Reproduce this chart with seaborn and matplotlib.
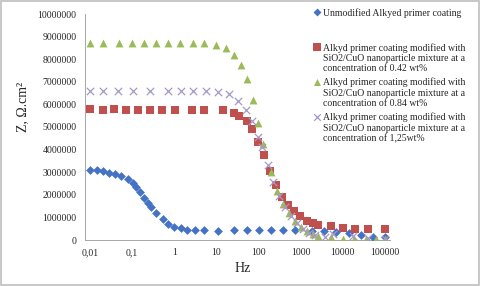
import numpy as np
import pandas as pd
import matplotlib
matplotlib.use("Agg")
import matplotlib.pyplot as plt
import seaborn as sns
from matplotlib.patches import Rectangle

# ---- data ----
freq_unmod = [0.01, 0.0149, 0.02, 0.028, 0.039, 0.056, 0.081, 0.107, 0.124, 0.154, 0.19, 0.24,
              0.28, 0.37, 0.53, 0.72, 1.0, 1.42, 2.04, 3.1, 5.1, 10.8, 26.8, 52.8, 103, 196,
              390, 741, 1845, 3610, 6970, 14400, 27400, 51800, 100000]
z_unmod = [3.10, 3.10, 3.05, 2.98, 2.93, 2.85, 2.69, 2.51, 2.33, 2.11, 1.87, 1.65,
           1.47, 1.21, 0.92, 0.72, 0.59, 0.52, 0.44, 0.43, 0.43, 0.40, 0.43, 0.43, 0.43, 0.43,
           0.43, 0.43, 0.41, 0.41, 0.37, 0.30, 0.21, 0.12, 0.12]

freq_042 = [0.01, 0.02, 0.0365, 0.072, 0.14, 0.266, 0.51, 1.03, 2.6, 5.1, 14.2, 26.4, 35.3,
            52.7, 70.5, 99.5, 134, 189, 262, 364, 497, 689, 988, 1403, 1950, 2650, 5210,
            10000, 19700, 39500, 100000]
z_042 = [5.80, 5.77, 5.80, 5.77, 5.77, 5.77, 5.77, 5.77, 5.77, 5.77, 5.74, 5.62, 5.50,
         5.28, 4.90, 4.35, 3.75, 3.04, 2.42, 1.89, 1.54, 1.27, 1.06, 0.85, 0.74, 0.66, 0.60,
         0.52, 0.49, 0.49, 0.49]

freq_084 = [0.01, 0.02, 0.0497, 0.101, 0.192, 0.37, 0.725, 1.40, 2.85, 5.2, 9.7, 17, 27, 38,
            54.6, 73, 99.5, 131, 196, 272, 390, 533, 741, 1000, 1400, 1950, 2650, 5200,
            10000, 19000, 36000, 63000, 100000]
z_084 = [8.73, 8.73, 8.73, 8.73, 8.73, 8.73, 8.73, 8.73, 8.73, 8.70, 8.63, 8.51, 8.19, 7.74,
         7.12, 6.19, 5.16, 4.23, 3.02, 2.17, 1.59, 1.21, 0.85, 0.59, 0.40, 0.28, 0.17, 0.12,
         0.06, 0.04, 0.04, 0.04, 0.04]

freq_125 = [0.01, 0.02, 0.0455, 0.103, 0.266, 0.725, 1.42, 2.85, 5.6, 10.8, 19.5, 33.2, 50.7,
            71.6, 99.5, 120, 166, 226, 310, 430, 600, 830, 1150, 1600, 2200, 3800, 6000,
            17800, 40000, 100000]
z_125 = [6.59, 6.59, 6.59, 6.59, 6.59, 6.59, 6.59, 6.59, 6.59, 6.54, 6.46, 6.15, 5.75,
         5.25, 4.57, 4.13, 3.32, 2.55, 1.95, 1.45, 1.05, 0.75, 0.50, 0.33, 0.22, 0.12, 0.25,
         0.17, 0.08, 0.05]

labels = ["Unmodified Alkyed primer coating\n\n",
          "Alkyd primer coating modified with\nSiO2/CuO nanoparticle mixture at a\nconcentration of 0.42 wt%",
          "Alkyd primer coating modified with\nSiO2/CuO nanoparticle mixture at a\nconcentration of 0.84 wt%",
          "Alkyd primer coating modified with\nSiO2/CuO nanoparticle mixture at a\nconcentration of 1,25wt%"]

xtick_vals = [0.01, 0.1, 1, 10, 100, 1000, 10000, 100000]
xtick_labels = ["0,01", "0,1", "1", "10", "100", "1000", "10000", "100000"]
ytick_vals = [0, 1000000, 2000000, 3000000, 4000000, 5000000, 6000000, 7000000, 8000000, 9000000, 10000000]

# ---- style ----
sns.set_theme(style="white")
plt.rcParams["font.family"] = ["Liberation Serif", "DejaVu Serif"]
text_col = "#262626"

fig = plt.figure(figsize=(4.8, 2.86), dpi=100)
ax = fig.add_axes([85 / 480, 1 - 240 / 286, (390 - 85) / 480, (240 - 14) / 286])

series = [
    (freq_unmod, z_unmod, "D", "#4472C4", 20, labels[0]),
    (freq_042, z_042, "s", "#C0504D", 36, labels[1]),
    (freq_084, z_084, "^", "#9BBB59", 32, labels[2]),
    (freq_125, z_125, "x", "#A797C8", 28, labels[3]),
]
for f, z, m, c, s, lab in series:
    df = pd.DataFrame({"Hz": f, "Z": np.array(z) * 1e6})
    kw = dict(linewidth=0) if m != "x" else dict(linewidth=0.9)
    sns.scatterplot(data=df, x="Hz", y="Z", marker=m, color=c, s=s, ax=ax, label=lab,
                    zorder=3, **kw)

ax.set_xscale("log")
ax.set_xlim(10 ** (-2 - 5 / 42.1), 10 ** (-2 + 300 / 42.1))
ax.set_ylim(0, 10000000)
ax.set_xticks(xtick_vals, xtick_labels)
ax.xaxis.set_minor_locator(matplotlib.ticker.NullLocator())
ax.set_yticks(ytick_vals, [str(v) for v in ytick_vals])
ax.tick_params(axis="both", labelsize=7, colors="#A6A6A6", labelcolor=text_col, length=3,
               width=0.6, pad=3, direction="out")
for sp in ["top", "right"]:
    ax.spines[sp].set_visible(False)
for sp in ["left", "bottom"]:
    ax.spines[sp].set_color("#A6A6A6")
    ax.spines[sp].set_linewidth(0.7)
ax.grid(False)

ax.set_xlabel("Hz", fontsize=10, color=text_col)
ax.set_ylabel("Z, Ω.cm²", fontsize=10, color=text_col)
ax.xaxis.set_label_coords((243 - 85) / 305, -(262 - 240) / 226)
ax.yaxis.set_label_coords((29 - 85) / 305, (240 - 107) / 226)

leg = ax.legend(loc="upper left", bbox_to_anchor=(313 / 480, 1 - 8 / 286),
                bbox_transform=fig.transFigure, frameon=False, fontsize=7,
                borderpad=0, labelspacing=0.45, handlelength=0.8, handletextpad=0.25,
                borderaxespad=0, markerscale=0.9)
for t in leg.get_texts():
    t.set_color(text_col)
for col in leg._legend_handle_box.get_children():
    for row in col.get_children():
        row.align = "top"

fig.patches.append(Rectangle((0.002, 0.004), 0.995, 0.992, transform=fig.transFigure,
                             fill=False, edgecolor="#BFBFBF", linewidth=1.2))

fig.savefig("out.png", dpi=100)
